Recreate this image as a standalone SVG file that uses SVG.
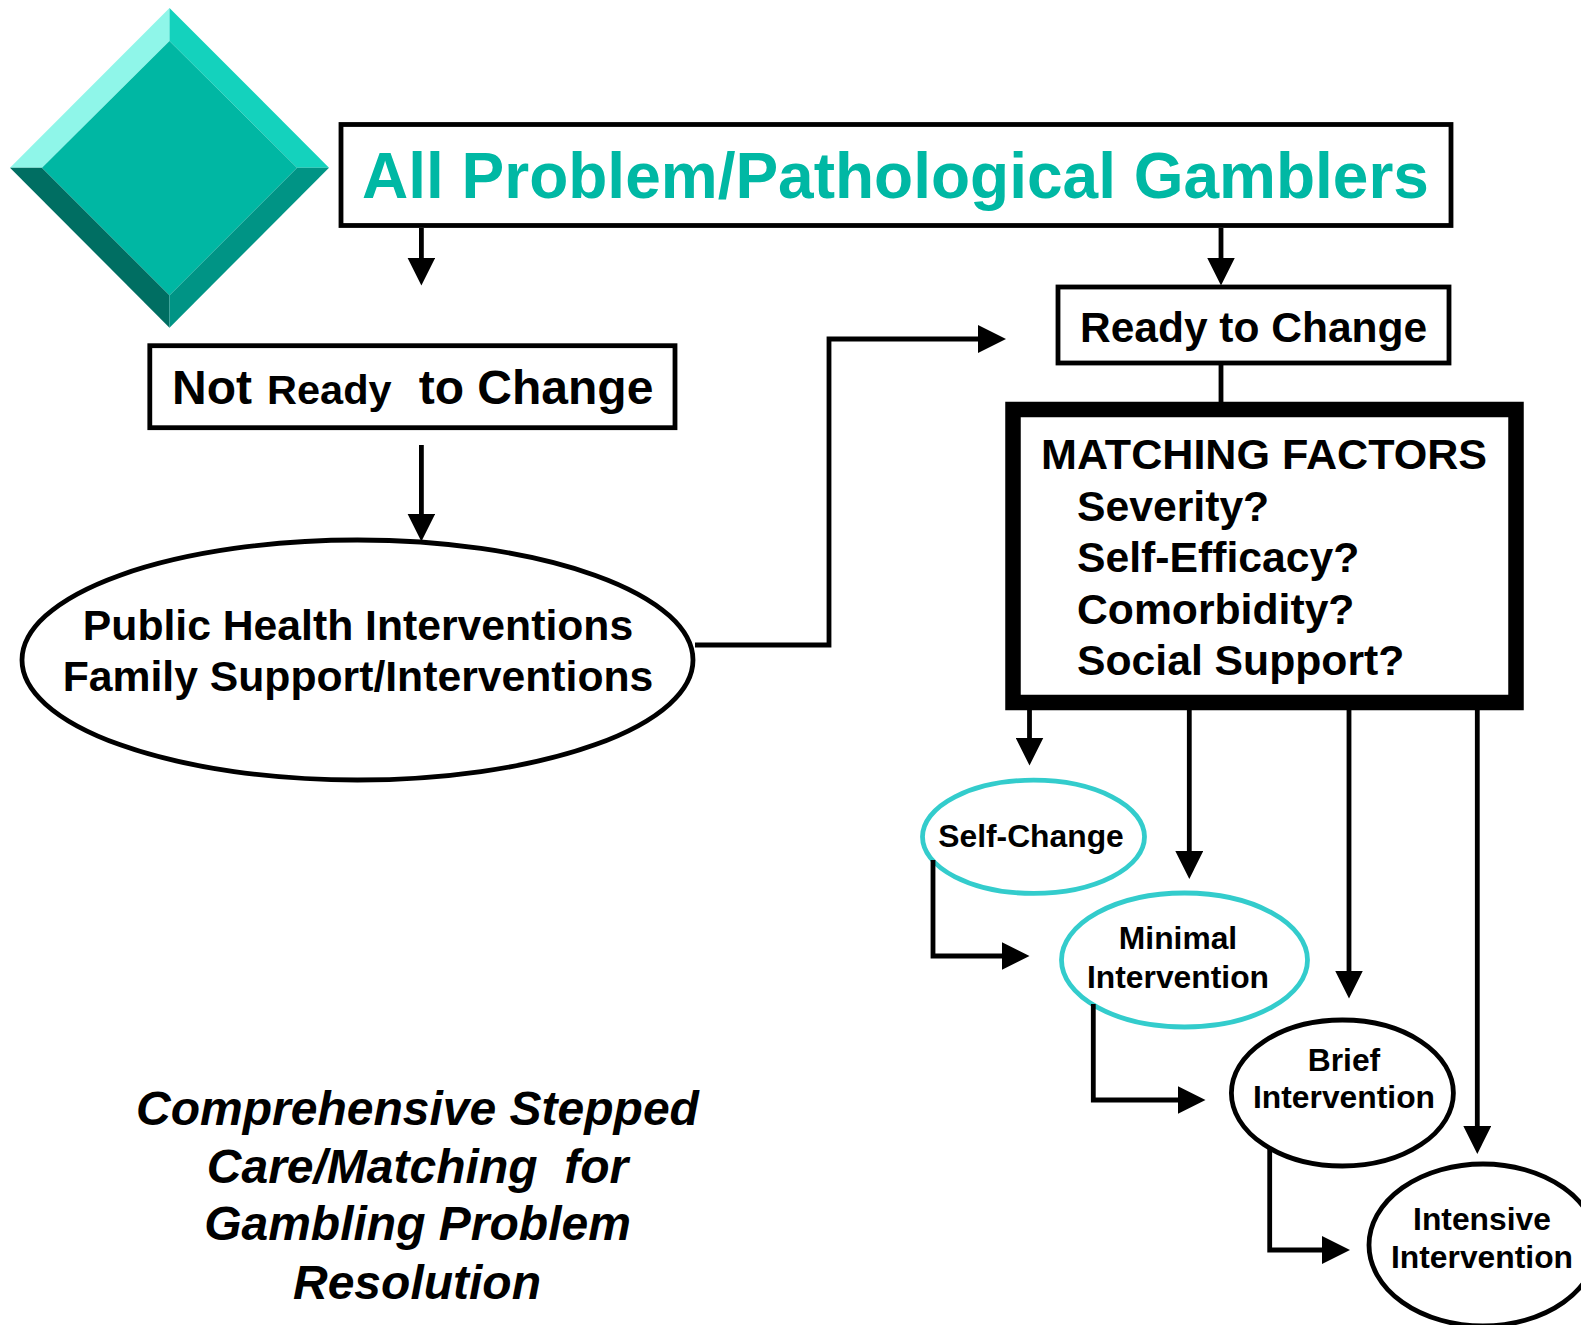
<svg xmlns="http://www.w3.org/2000/svg" width="1581" height="1325" viewBox="0 0 1581 1325">
<style>
text{font-family:"Liberation Sans",Arial,sans-serif;font-weight:bold;fill:#000;white-space:pre}
.box{fill:#fff;stroke:#000;stroke-width:4.8}
.oval{fill:#fff;stroke:#000;stroke-width:4.8}
.teal{fill:#fff;stroke:#33cccc;stroke-width:4.8}
.line{fill:none;stroke:#000;stroke-width:4.8}
.m{font-size:42.7px}
.s{font-size:31.8px;text-anchor:middle}
.c{font-size:48px;font-style:italic;text-anchor:middle}
</style>
<defs>
<marker id="ah" markerUnits="userSpaceOnUse" markerWidth="28" markerHeight="28" refX="2" refY="14" orient="auto"><path d="M0 0L28 14L0 28Z" fill="#000"/></marker>
</defs>
<rect width="1581" height="1325" fill="#fff"/>
<g id="diamond">
<polygon points="169.5,8 169.5,41 42,167.7 10,167.7" fill="#8ff6e9"/>
<polygon points="169.5,8 329,167.7 297,167.7 169.5,41" fill="#14d2bd"/>
<polygon points="10,167.7 42,167.7 169.5,295.3 169.5,327.7" fill="#006e62"/>
<polygon points="329,167.7 297,167.7 169.5,295.3 169.5,327.7" fill="#009485"/>
<polygon points="169.5,41 297,167.7 169.5,295.3 42,167.7" fill="#00b7a3"/>
</g>
<g id="connectors">
<path class="line" marker-end="url(#ah)" d="M421.4 228V259.5"/>
<path class="line" marker-end="url(#ah)" d="M1221 228V259.5"/>
<path class="line" marker-end="url(#ah)" d="M421.4 445V515.5"/>
<path class="line" d="M1221 364V402"/>
<path class="line" marker-end="url(#ah)" d="M695 645H829V339H980"/>
<path class="line" marker-end="url(#ah)" d="M1029.5 710V739.5"/>
<path class="line" marker-end="url(#ah)" d="M1189.3 710V853"/>
<path class="line" marker-end="url(#ah)" d="M1349 710V972.5"/>
<path class="line" marker-end="url(#ah)" d="M1477.3 710V1128"/>
</g>
<g id="all-gamblers"><rect class="box" x="341" y="124.5" width="1110" height="101"/><text x="362" y="198" font-size="64" style="fill:#00b8a4">All Problem/Pathological Gamblers</text></g>
<g id="not-ready"><rect class="box" x="149.8" y="345.7" width="525.2" height="82"/><text y="404" font-size="48"><tspan x="172">Not</tspan><tspan x="267" font-size="41.5">Ready</tspan><tspan x="418.7">to Change</tspan></text></g>
<g id="ready"><rect class="box" x="1058" y="287" width="391" height="76"/><text x="1080" y="341.5" font-size="42.5">Ready to Change</text></g>
<g id="matching"><rect x="1013" y="409.5" width="503" height="293" fill="#fff" stroke="#000" stroke-width="15.5"/>
<text x="1041" y="469" font-size="43.1">MATCHING FACTORS</text>
<text class="m" x="1077" y="520.5">Severity?</text>
<text class="m" x="1077" y="572">Self-Efficacy?</text>
<text class="m" x="1077" y="623.5">Comorbidity?</text>
<text class="m" x="1077" y="675">Social Support?</text></g>
<g id="public-health"><ellipse class="oval" cx="357.5" cy="660" rx="335.5" ry="120"/>
<text class="m" x="358" y="640" text-anchor="middle">Public Health Interventions</text>
<text class="m" x="358" y="691" text-anchor="middle">Family Support/Interventions</text></g>
<g id="self-change"><ellipse class="teal" cx="1033.5" cy="836.8" rx="111" ry="56.6"/><text class="s" x="1031" y="847">Self-Change</text></g>
<g id="minimal"><ellipse class="teal" cx="1184.5" cy="960" rx="123" ry="67"/><text class="s" x="1178" y="949">Minimal</text><text class="s" x="1178" y="988">Intervention</text></g>
<g id="brief"><ellipse class="oval" cx="1342.4" cy="1093" rx="111" ry="73"/><text class="s" x="1344" y="1070.5">Brief</text><text class="s" x="1344" y="1108">Intervention</text></g>
<g id="intensive"><ellipse class="oval" cx="1483" cy="1245" rx="114" ry="81"/><text class="s" x="1482" y="1230">Intensive</text><text class="s" x="1482" y="1268">Intervention</text></g>
<g id="step-connectors">
<path class="line" marker-end="url(#ah)" d="M933 860V956H1003.5"/>
<path class="line" marker-end="url(#ah)" d="M1093.3 1004V1100H1179.5"/>
<path class="line" marker-end="url(#ah)" d="M1269.7 1148V1250H1324"/>
</g>
<g id="caption"><text class="c" x="417.5" y="1125">Comprehensive Stepped</text><text class="c" x="417.5" y="1183">Care/Matching  for</text><text class="c" x="417.5" y="1240">Gambling Problem</text><text class="c" x="417" y="1298.5">Resolution</text></g>
</svg>
